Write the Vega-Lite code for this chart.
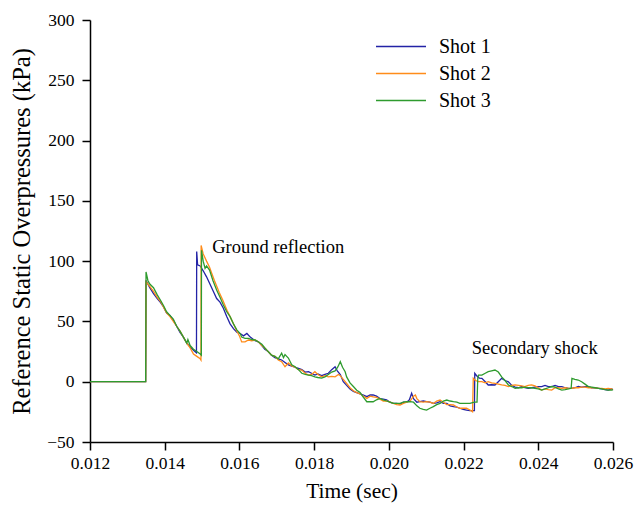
{
  "$schema": "https://vega.github.io/schema/vega-lite/v6.json",
  "width": 523,
  "height": 422,
  "autosize": "none",
  "padding": {"left": 90, "top": 20, "right": 22, "bottom": 63},
  "background": "white",
  "config": {
    "font": "Liberation Serif",
    "view": {"stroke": null},
    "axis": {"grid": false, "domainColor": "black", "domainWidth": 1.5, "tickColor": "black", "tickWidth": 1.5, "tickSize": 8, "labelColor": "black", "titleColor": "black", "labelFont": "Liberation Serif", "titleFont": "Liberation Serif", "labelFontSize": 17.5, "titleFontWeight": "normal"}
  },
  "datasets": {
    "shots": [
      {"shot": "Shot 1",
       "t": [0.012,0.01349,0.0135,0.0136,0.0137,0.0138,0.01388,0.01397,0.01405,0.01414,0.01423,0.01432,0.01441,0.0145,0.01459,0.01468,0.01477,0.01485,0.014856,0.01488,0.01495,0.01503,0.01512,0.01521,0.0153,0.01539,0.01548,0.01557,0.01566,0.01575,0.01584,0.01593,0.01602,0.01611,0.0162,0.01629,0.01642,0.01651,0.0166,0.01668,0.01677,0.01686,0.01695,0.01704,0.01713,0.01722,0.01731,0.0174,0.01749,0.01758,0.01767,0.01776,0.01785,0.01793,0.01802,0.0181,0.0182,0.01829,0.01838,0.01847,0.01856,0.01862,0.0187,0.01878,0.01887,0.01896,0.01905,0.01914,0.01923,0.01932,0.01941,0.0195,0.01958,0.01967,0.01976,0.01985,0.01994,0.02003,0.02012,0.02021,0.0203,0.02039,0.02048,0.02055,0.02061,0.02066,0.02075,0.02083,0.02092,0.02101,0.0211,0.02119,0.02128,0.02137,0.02146,0.02155,0.02164,0.02173,0.02182,0.0219,0.02199,0.02208,0.02217,0.02229,0.0223,0.02235,0.02242,0.02249,0.02258,0.02266,0.02275,0.02284,0.02293,0.02302,0.02311,0.0232,0.02329,0.02338,0.02347,0.02356,0.02364,0.02373,0.02382,0.02391,0.024,0.02409,0.02418,0.02427,0.02436,0.02445,0.02454,0.02463,0.02472,0.02481,0.02489,0.02498,0.02507,0.02516,0.02525,0.02534,0.02543,0.02552,0.02561,0.0257,0.02579,0.02587,0.02596,0.026],
       "p": [0,0,84,78,73,69,66,62,57,55,51,46,41,37,32,29,26,24,108,97,96,92,87,81,75,69,66,61,54,48,44,41,40,38,40,37,34,33,30,27,25,22,20,19,18,16,14,13,12,11,10,8,8.3,7,5.5,6.5,5,6,7,10,12.4,9,6,0,-3,-6,-8,-9,-10,-11,-12.4,-11,-11,-12,-14,-14.5,-15,-17,-18,-18,-18.5,-17,-17,-15,-9.6,-14,-17,-16.6,-16,-16.6,-17,-18,-17.5,-16.6,-18,-18,-20,-20.7,-21,-22,-23,-23.5,-24,-24,7,5,3,2.8,0,-2.7,-2.5,-2.7,0,2.8,1,0,-3,-4.5,-5,-4,-5,-5.5,-5,-4.5,-4,-4,-3,-4,-4,-3,-4,-4,-5,-5.5,-5.5,-5,-4,-4.5,-4,-4,-5,-5,-5.5,-6,-6.5,-6.9,-6,-6.5]},
      {"shot": "Shot 2",
       "t": [0.012,0.01349,0.0135,0.0136,0.0137,0.0138,0.0139,0.014,0.01405,0.01414,0.01423,0.01432,0.01441,0.0145,0.01459,0.01468,0.01477,0.01486,0.01495,0.01497,0.014975,0.01503,0.01512,0.0152,0.01533,0.01546,0.01555,0.01567,0.01575,0.01584,0.01593,0.016,0.01606,0.01615,0.01624,0.01633,0.01642,0.01651,0.0166,0.01668,0.01677,0.01686,0.01695,0.01704,0.01713,0.01722,0.01731,0.0174,0.01749,0.01758,0.01767,0.01776,0.01785,0.01793,0.01802,0.0181,0.0182,0.01829,0.01838,0.01847,0.01856,0.01865,0.0187,0.01878,0.01887,0.01896,0.01905,0.01914,0.01923,0.01932,0.01941,0.0195,0.01958,0.01967,0.01976,0.01985,0.01994,0.02003,0.02012,0.02021,0.0203,0.02039,0.02048,0.02057,0.02066,0.02071,0.02075,0.02083,0.02092,0.02101,0.0211,0.02119,0.02128,0.02137,0.02146,0.02155,0.02164,0.02173,0.02182,0.0219,0.02199,0.02208,0.02217,0.02224,0.02226,0.02232,0.0224,0.02249,0.02258,0.02266,0.02275,0.02284,0.02293,0.02302,0.02311,0.0232,0.02329,0.02338,0.02347,0.02356,0.02364,0.02373,0.02382,0.02391,0.024,0.02409,0.02418,0.02427,0.02436,0.02445,0.02454,0.02463,0.02472,0.02481,0.02489,0.02498,0.02507,0.02516,0.02525,0.02534,0.02543,0.02552,0.02561,0.0257,0.02579,0.02587,0.02596,0.026],
       "p": [0,0,83,79,75,70,66,60,57,54,50,46,42,37,32,28,23,21,19,18,113,106,100,95,84,74,68,59,54,48,42,38,33,33,34.6,34,34.6,33,30,28,25,22,21,18,16.6,12.4,15.5,13,12,10,9.7,7,5.5,6,8.3,6,4,5,4,4.5,4,6,5,2,-1.4,-5,-7.5,-9,-10,-12,-13.8,-12,-12.5,-13,-14.5,-16,-16,-17,-18,-19,-19.3,-18,-17,-16,-12,-11,-14,-16.6,-17,-16.6,-17,-18,-16,-15.2,-17,-19,-19,-19.3,-21,-22,-22,-22,-23.5,-25,2.8,1,0,0,-1,0,-1,-1.4,-2,-2.7,-3,-4,-3,-2.7,-3,-3.5,-4,-3,-2.7,-3.5,-5,-6.9,-6,-6.5,-6.9,-5,-5,-5.5,-5,-5.5,-5.5,-5,-5,-4.5,-4.5,-5,-5,-5,-5.5,-5.5,-6,-5.5,-6,-6.5]},
      {"shot": "Shot 3",
       "t": [0.012,0.01349,0.0135,0.01355,0.0136,0.0137,0.0138,0.01388,0.01397,0.01405,0.01414,0.01423,0.01432,0.01441,0.0145,0.01459,0.01462,0.01468,0.01477,0.01486,0.01495,0.01498,0.014985,0.01503,0.01508,0.01512,0.0152,0.01529,0.01539,0.01548,0.01557,0.01566,0.01575,0.01584,0.01593,0.01602,0.01606,0.01615,0.01624,0.01633,0.01642,0.01651,0.0166,0.01668,0.01677,0.01686,0.01695,0.01704,0.01713,0.01718,0.01722,0.01731,0.0174,0.01749,0.01758,0.01767,0.01776,0.01785,0.01793,0.01802,0.0181,0.0182,0.01829,0.01838,0.01847,0.01856,0.01863,0.0187,0.01876,0.01883,0.01887,0.01896,0.01905,0.01914,0.01923,0.01932,0.01941,0.0195,0.01958,0.01967,0.01976,0.01985,0.01994,0.02003,0.02012,0.02021,0.0203,0.02039,0.02048,0.02057,0.02066,0.02075,0.02083,0.02092,0.02101,0.0211,0.02119,0.02128,0.02137,0.02146,0.02155,0.02164,0.02173,0.02182,0.0219,0.02199,0.02208,0.02217,0.02229,0.02236,0.02238,0.0224,0.02249,0.02258,0.02266,0.02275,0.02284,0.02293,0.02302,0.02311,0.0232,0.02329,0.02338,0.02347,0.02356,0.02364,0.02373,0.02382,0.02391,0.024,0.02409,0.02418,0.02427,0.02436,0.02445,0.02454,0.02463,0.02472,0.02481,0.02488,0.0249,0.02498,0.02507,0.02516,0.02525,0.02534,0.02543,0.02552,0.02561,0.0257,0.02579,0.02587,0.02596,0.026],
       "p": [0,0,91,84,81,78,72,68,63,58,55,52,46,42,37,32,35,30,27,25,23,22,109,100,94,96,92.6,84,76,70,63.6,58,54,48,43,40,37,36,36,35,34.6,33,31,28,25,22,21,19,23.6,20,22.5,19.6,14,12.4,10,7,6,5.5,5,4,3.5,3,4,6,8,9,12,16.6,12,8.3,4,-1,-4,-7,-9,-13,-16.6,-16.6,-16.6,-15,-13.8,-15,-16,-17,-18,-18,-18,-17,-16.6,-16.6,-17,-20,-22,-23,-23.5,-22,-20.7,-19,-18,-16,-15.2,-16,-16.6,-17,-18,-18,-18,-18,-17,-17,3,5.5,5.5,7,8.3,9,9.7,8,4,1,-2.7,-4,-5.5,-5,-5,-4.5,-5,-5,-5.5,-6,-6.9,-6,-5,-4,-4.5,-6,-6.9,-6.5,-6,-5.5,2.8,2,1.4,0,-2,-4,-4.5,-5,-5.5,-6,-6.5,-7,-7,-6.5]}
    ],
    "notes": [
      {"label": "Ground reflection", "t": 0.01527, "p": 111.5},
      {"label": "Secondary shock", "t": 0.02222, "p": 28}
    ]
  },
  "layer": [
    {
      "data": {"name": "shots"},
      "transform": [{"flatten": ["t", "p"]}],
      "mark": {"type": "line", "strokeWidth": 1.3, "interpolate": "linear"},
      "encoding": {
        "x": {"field": "t", "type": "quantitative", "scale": {"domain": [0.012, 0.026], "nice": false, "zero": false},
          "axis": {"title": "Time (sec)", "titleFontSize": 21.5, "titlePadding": 9, "labelPadding": 4,
            "values": [0.012,0.013,0.014,0.015,0.016,0.017,0.018,0.019,0.02,0.021,0.022,0.023,0.024,0.025,0.026],
            "labelExpr": "round(datum.value*1000) % 2 === 0 ? format(datum.value, '.3f') : ''", "labelFlush": false, "labelOverlap": false}},
        "y": {"field": "p", "type": "quantitative", "scale": {"domain": [-50, 300], "nice": false, "zero": false},
          "axis": {"title": "Reference Static Overpressures (kPa)", "titleFontSize": 24.5, "titlePadding": 12, "labelPadding": 8,
            "values": [-50,-25,0,25,50,75,100,125,150,175,200,225,250,275,300],
            "labelExpr": "datum.value % 50 === 0 ? datum.label : ''", "labelOverlap": false, "labelFlush": false}},
        "color": {"field": "shot", "type": "nominal",
          "scale": {"domain": ["Shot 1", "Shot 2", "Shot 3"], "range": ["#2323a6", "#ff8c1a", "#2e9b2e"]},
          "legend": {"title": null, "orient": "none", "legendX": 297.5, "legendY": 13, "symbolType": "M-2,0H2", "symbolSize": 625, "symbolStrokeWidth": 1.5, "symbolFillColor": "transparent", "labelFontSize": 20, "labelFont": "Liberation Serif", "labelColor": "black", "labelOffset": 24.5, "rowPadding": 3, "padding": 0}}
      }
    },
    {
      "data": {"name": "notes"},
      "mark": {"type": "text", "align": "left", "baseline": "middle", "fontSize": 18.5, "font": "Liberation Serif", "color": "black"},
      "encoding": {
        "x": {"field": "t", "type": "quantitative"},
        "y": {"field": "p", "type": "quantitative"},
        "text": {"field": "label"}
      }
    }
  ]
}
